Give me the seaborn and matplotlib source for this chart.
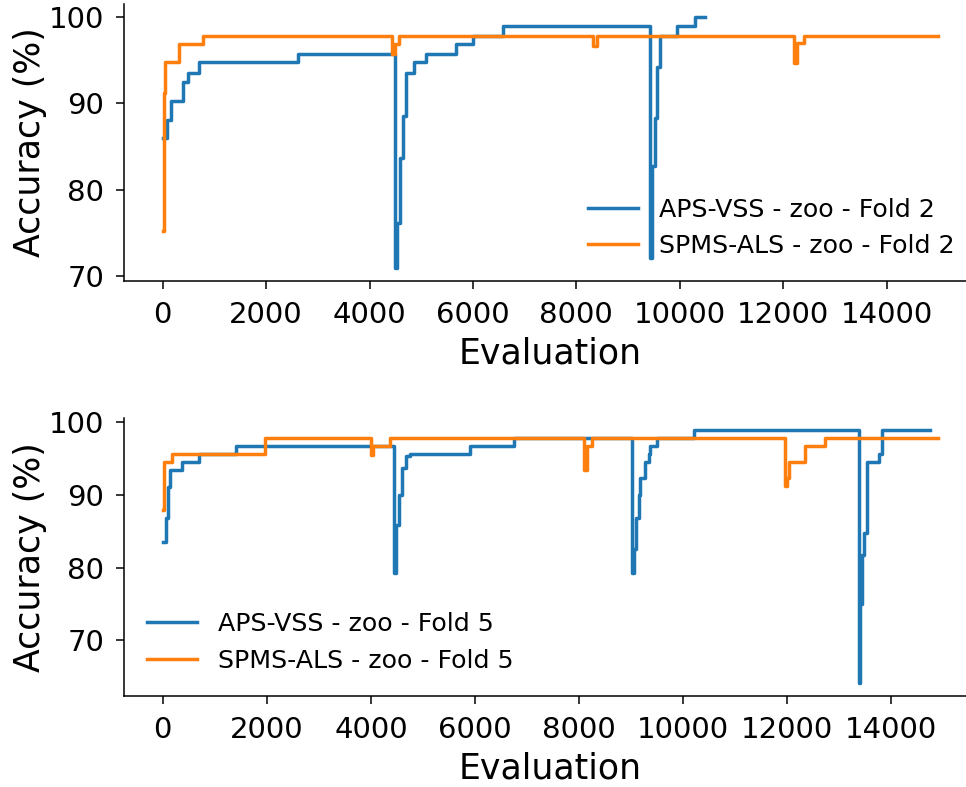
import numpy as np
import pandas as pd
import matplotlib
matplotlib.use("Agg")
import matplotlib.pyplot as plt
import seaborn as sns

# ---------------- data (change points, drawn as steps) ----------------
methods = ["APS-VSS", "SPMS-ALS"]

# Fold 2
f2_aps_eval = [0, 78, 155, 382, 479, 698, 2610, 4496, 4530, 4580, 4650, 4709, 4864,
               5097, 5678, 6002, 6583, 9419, 9470, 9515, 9560, 9612, 9942, 10291, 10479]
f2_aps_acc = [86.0, 88.1, 90.3, 92.4, 93.5, 94.7, 95.7, 70.9, 76.2, 83.7, 88.5, 93.5, 94.7,
              95.7, 96.8, 97.8, 98.9, 72.1, 82.7, 88.3, 94.2, 97.8, 98.9, 100.0, 100.0]

f2_spms_eval = [0, 20, 40, 317, 769, 4440, 4500, 4560, 8314, 8405, 12203, 12267, 12397, 15000]
f2_spms_acc = [75.2, 91.2, 94.7, 96.8, 97.8, 95.7, 96.8, 97.8, 96.6, 97.8, 94.6, 96.9, 97.8, 97.8]

# Fold 5
f5_aps_eval = [0, 60, 110, 148, 373, 705, 1416, 4438, 4480, 4530, 4600, 4680, 4759,
               5912, 6744, 9018, 9049, 9101, 9145, 9178, 9274, 9337, 9370, 9499, 10215,
               13372, 13404, 13437, 13468, 13533, 13756, 13821, 14750]
f5_aps_acc = [83.5, 86.8, 91.1, 93.4, 94.5, 95.6, 96.7, 79.3, 85.8, 90.0, 93.7, 95.3, 95.6,
              96.7, 97.8, 79.3, 82.6, 86.8, 90.0, 92.3, 94.5, 95.6, 96.7, 97.8, 98.9,
              64.1, 75.0, 81.7, 84.7, 94.5, 95.6, 98.9, 98.9]

f5_spms_eval = [0, 30, 181, 1973, 4004, 4048, 4375, 8089, 8150, 8250, 11963, 11990,
                12027, 12348, 12732, 14900]
f5_spms_acc = [87.9, 94.5, 95.6, 97.8, 95.5, 96.7, 97.8, 93.4, 96.7, 97.8, 91.3, 92.3,
               94.5, 96.7, 97.8, 97.8]

folds = [
    ("2", f2_aps_eval, f2_aps_acc, f2_spms_eval, f2_spms_acc, "lower right"),
    ("5", f5_aps_eval, f5_aps_acc, f5_spms_eval, f5_spms_acc, "lower left"),
]

palette = {"APS-VSS": "#1f77b4", "SPMS-ALS": "#ff7f0e"}

plt.rcParams["font.family"] = ["DejaVu Sans"]
plt.rcParams["axes.linewidth"] = 1.1
plt.rcParams["xtick.major.width"] = 1.1
plt.rcParams["ytick.major.width"] = 1.1
plt.rcParams["xtick.major.size"] = 5.8
plt.rcParams["ytick.major.size"] = 5.8

fig = plt.figure(figsize=(9.66, 7.87), dpi=100)
positions = [
    [124 / 966, 1 - 281 / 787, 853 / 966, 277 / 787],
    [124 / 966, 1 - 695.7 / 787, 853 / 966, 278 / 787],
]

for (fold, ae, aa, se, sa, loc), pos in zip(folds, positions):
    ax = fig.add_axes(pos)
    df = pd.concat([
        pd.DataFrame({"Evaluation": ae, "Accuracy": aa, "Method": "APS-VSS"}),
        pd.DataFrame({"Evaluation": se, "Accuracy": sa, "Method": "SPMS-ALS"}),
    ], ignore_index=True)
    df["Label"] = df["Method"] + " - zoo - Fold " + fold
    order = [m + " - zoo - Fold " + fold for m in methods]
    pal = {m + " - zoo - Fold " + fold: palette[m] for m in methods}
    sns.lineplot(data=df, x="Evaluation", y="Accuracy", hue="Label", hue_order=order,
                 palette=pal, estimator=None, sort=True, drawstyle="steps-post",
                 linewidth=2.5, ax=ax, legend=True)
    handles, labels = ax.get_legend_handles_labels()
    ax.legend(handles, labels, loc=loc, frameon=False, fontsize=18.2,
              handlelength=2.0)
    ax.set_xlabel("Evaluation", fontsize=25, labelpad=5.5)
    ax.set_ylabel("Accuracy (%)", fontsize=25, labelpad=1)
    ax.tick_params(labelsize=21, pad=8.5)
    ax.set_xticks([0, 2000, 4000, 6000, 8000, 10000, 12000, 14000])
    ax.set_yticks([70, 80, 90, 100])
    sns.despine(ax=ax)

fig.savefig("out.png", dpi=100)
